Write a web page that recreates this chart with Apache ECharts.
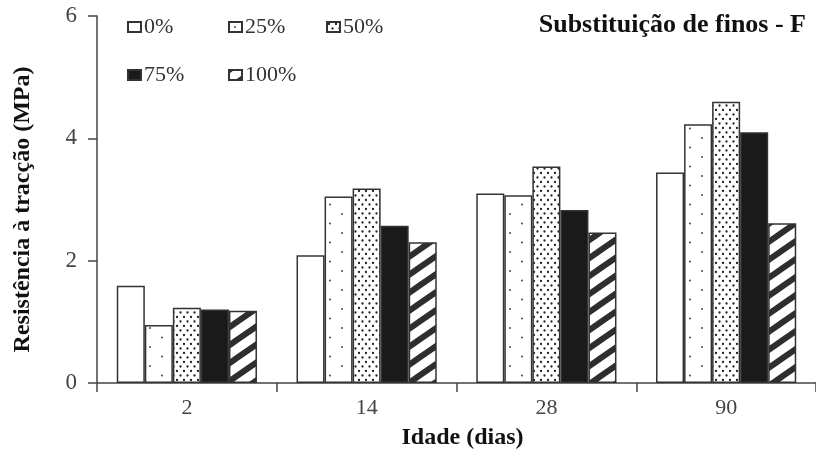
<!DOCTYPE html>
<html>
<head>
<meta charset="utf-8">
<script src="https://cdn.jsdelivr.net/npm/echarts@6/dist/echarts.min.js"></script>
<style>html,body{margin:0;padding:0;background:#fff;}#c{width:816px;height:452px;}</style>
</head>
<body>
<div id="c"></div>
<script>
// ---- data ----
const categories = ['2', '14', '28', '90'];
const seriesNames = ['0%', '25%', '50%', '75%', '100%'];
const v0   = [1.59, 2.09, 3.10, 3.44];
const v25  = [0.95, 3.05, 3.07, 4.23];
const v50  = [1.23, 3.18, 3.54, 4.60];
const v75  = [1.20, 2.57, 2.83, 4.10];
const v100 = [1.18, 2.30, 2.46, 2.61];
const yMin = 0, yMax = 6, yStep = 2;
const titleText = 'Substituição de finos - F';
const xName = 'Idade (dias)';
const yName = 'Resistência à tracção (MPa)';

// ---- patterns ----
function makeCanvas(w, h, draw) {
  const c = document.createElement('canvas');
  c.width = w; c.height = h;
  const ctx = c.getContext('2d');
  ctx.fillStyle = '#ffffff';
  ctx.fillRect(0, 0, w, h);
  draw(ctx, w, h);
  return c;
}
function dot(ctx, x, y, r, col) {
  ctx.fillStyle = col; ctx.beginPath(); ctx.arc(x, y, r, 0, Math.PI * 2); ctx.fill();
}
const sparseDots = makeCanvas(24, 19, (ctx) => { dot(ctx, 6, 5, 1.1, '#555'); dot(ctx, 18, 14.5, 1.1, '#555'); });
const denseDots = makeCanvas(7, 9, (ctx) => { dot(ctx, 2, 2, 1.15, '#222'); dot(ctx, 5.5, 6.5, 1.15, '#222'); });
const hatch = makeCanvas(26, 18, (ctx, w, h) => {
  ctx.strokeStyle = '#2e2e2e'; ctx.lineWidth = 6; ctx.lineCap = 'square';
  for (let k = -1; k <= 1; k++) {
    ctx.beginPath(); ctx.moveTo(0, h + k * h); ctx.lineTo(w, k * h); ctx.stroke();
  }
});

const fills = [
  '#ffffff',
  { image: sparseDots, repeat: 'repeat' },
  { image: denseDots, repeat: 'repeat' },
  '#1a1a1a',
  { image: hatch, repeat: 'repeat' }
];
const values = [v0, v25, v50, v75, v100];

const FONT = 'Liberation Serif';
const series = seriesNames.map((n, i) => ({
  name: n,
  type: 'bar',
  data: values[i],
  barGap: '0%',
  barCategoryGap: '22%',
  itemStyle: { color: fills[i], borderColor: '#333', borderWidth: 1.5 },
  emphasis: { disabled: true }
}));

const legendPos = [[122, 11], [223, 11], [321, 11], [122, 59], [223, 59]];
const legends = seriesNames.map((n, i) => ({
  data: [n],
  left: legendPos[i][0],
  top: legendPos[i][1],
  icon: 'rect',
  itemWidth: 13,
  itemHeight: 10,
  selectedMode: false,
  textStyle: { fontFamily: FONT, fontSize: 22, color: '#333', padding: [0, 0, 0, -2] }
}));

const chart = echarts.init(document.getElementById('c'), null, { renderer: 'canvas' });
chart.setOption({
  animation: false,
  backgroundColor: '#ffffff',
  title: {
    text: titleText,
    right: 5,
    top: 7,
    textStyle: { fontFamily: FONT, fontSize: 26, fontWeight: 'bold', color: '#111' }
  },
  legend: legends,
  grid: { left: 97, right: 0, top: 16, bottom: 69, containLabel: false, outerBoundsMode: 'none' },
  xAxis: {
    type: 'category',
    data: categories,
    name: xName,
    nameLocation: 'middle',
    nameGap: 43,
    nameTextStyle: { fontFamily: FONT, fontSize: 24, fontWeight: 'bold', color: '#111', padding: [0, 0, 0, 12] },
    axisLine: { lineStyle: { color: '#444', width: 1.5 } },
    axisTick: { show: true, length: 9, inside: false, lineStyle: { color: '#444', width: 1.5 } },
    axisLabel: { fontFamily: FONT, fontSize: 22, color: '#444', margin: 14 },
    splitLine: { show: false }
  },
  yAxis: {
    type: 'value',
    min: yMin, max: yMax, interval: yStep,
    name: yName,
    nameLocation: 'middle',
    nameGap: 62,
    nameTextStyle: { fontFamily: FONT, fontSize: 24, fontWeight: 'bold', color: '#111', padding: [0, 20, 0, 0] },
    axisLine: { show: true, lineStyle: { color: '#444', width: 1.5 } },
    axisTick: { show: true, length: 9, inside: false, lineStyle: { color: '#444', width: 1.5 } },
    axisLabel: { fontFamily: FONT, fontSize: 23, color: '#444', margin: 20 },
    splitLine: { show: false }
  },
  series: series
});
</script>
</body>
</html>
